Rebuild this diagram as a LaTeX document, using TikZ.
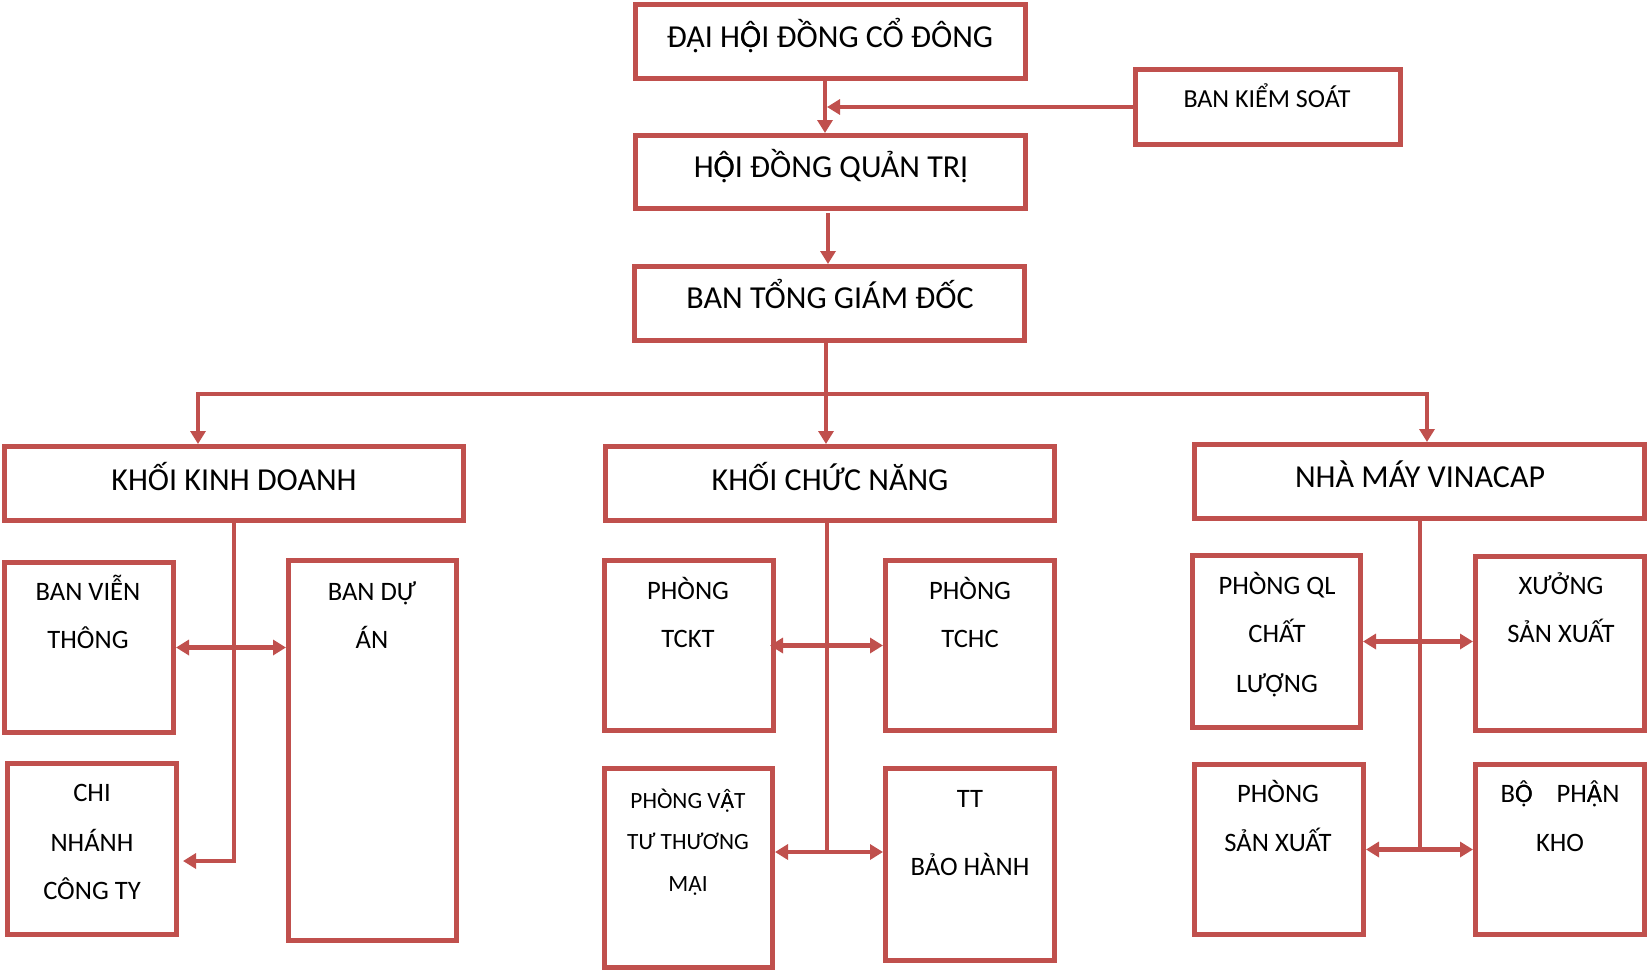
\documentclass[tikz,border=0pt]{standalone}
\usepackage{fontspec}
\setmainfont{Carlito}
\usetikzlibrary{arrows.meta}
\definecolor{boxred}{HTML}{C0504D}
% Carlito draws U+1ED8 / U+1EAC without the circumflex: overlay the two accented forms
\newcommand\Ocd{\ooalign{Ô\cr Ọ\cr}}
\newcommand\Acd{\ooalign{Â\cr Ạ\cr}}
\begin{document}
\begin{tikzpicture}[x=1pt,y=-1pt,
  box/.style={draw=boxred, line width=5pt, inner sep=0pt, rectangle},
  conn/.style={draw=boxred, line width=4.3pt},
  arr/.style={conn, -{Triangle[length=13pt,width=15pt]}},
  darr/.style={conn, {Triangle[length=13pt,width=15pt]}-{Triangle[length=13pt,width=15pt]}},
  big/.style={anchor=base, inner sep=0pt, font=\fontsize{32}{38}\selectfont},
  mid/.style={anchor=base, inner sep=0pt, font=\fontsize{26}{31}\selectfont},
  sml/.style={anchor=base, inner sep=0pt, font=\fontsize{26.6}{31}\selectfont},
  tiny/.style={anchor=base, inner sep=0pt, font=\fontsize{23.3}{28}\selectfont}
]
\useasboundingbox (0,0) rectangle (1647,970);

% boxes
\node[box, minimum width=390pt, minimum height=74pt] (dh)  at (830.5,41.5) {};
\node[box, minimum width=265pt, minimum height=75pt] (bks) at (1268,107) {};
\node[box, minimum width=390pt, minimum height=73pt] (hd)  at (830.5,172) {};
\node[box, minimum width=390pt, minimum height=74pt] (tgd) at (829.5,303.5) {};
\node[box, minimum width=459pt, minimum height=74pt] (kkd) at (234,483.5) {};
\node[box, minimum width=449pt, minimum height=74pt] (kcn) at (830,483.5) {};
\node[box, minimum width=450pt, minimum height=74pt] (nm)  at (1419.5,481.5) {};
\node[box, minimum width=169pt, minimum height=170pt] (bvt) at (89,647.5) {};
\node[box, minimum width=168pt, minimum height=380pt] (bda) at (372.5,750.5) {};
\node[box, minimum width=169pt, minimum height=171pt] (cn)  at (92,849) {};
\node[box, minimum width=169pt, minimum height=170pt] (tckt) at (689,645.5) {};
\node[box, minimum width=169pt, minimum height=170pt] (tchc) at (970,645.5) {};
\node[box, minimum width=168pt, minimum height=199pt] (vt)  at (688.5,868) {};
\node[box, minimum width=169pt, minimum height=192pt] (tt)  at (970,864.5) {};
\node[box, minimum width=168pt, minimum height=172pt] (ql)  at (1276.5,641.5) {};
\node[box, minimum width=169pt, minimum height=174pt] (xs)  at (1560,643.5) {};
\node[box, minimum width=169pt, minimum height=170pt] (psx) at (1279,849.5) {};
\node[box, minimum width=169pt, minimum height=170pt] (kho) at (1560,849.5) {};

% texts
\node[big] (tdh)  at (830,47)   {ĐẠI H\Ocd I ĐỒNG CỔ ĐÔNG};
\node[big] (thd)  at (831,177)  {H\Ocd I ĐỒNG QUẢN TRỊ};
\node[mid] (tbks) at (1267,107) {BAN KIỂM SOÁT};
\node[big] (ttgd) at (830,308)  {BAN TỔNG GIÁM ĐỐC};
\node[big] (tkkd) at (234,490)  {KHỐI KINH DOANH};
\node[big] (tkcn) at (830,490)  {KHỐI CHỨC NĂNG};
\node[big] (tnm)  at (1420,487) {NHÀ MÁY VINACAP};

\node[sml] (tbvt1) at (88,600)  {BAN VIỄN};
\node[sml] (tbvt2) at (88,648)  {THÔNG};
\node[sml] (tbda1) at (372,600) {BAN DỰ};
\node[sml] (tbda2) at (372,648) {ÁN};
\node[sml] (tcn1) at (92,801) {CHI};
\node[sml] (tcn2) at (92,851) {NHÁNH};
\node[sml] (tcn3) at (92,899) {CÔNG TY};

\node[sml] (ttckt1) at (688,599) {PHÒNG};
\node[sml] (ttckt2) at (688,647) {TCKT};
\node[sml] (ttchc1) at (970,599) {PHÒNG};
\node[sml] (ttchc2) at (970,647) {TCHC};
\node[tiny] (tvt1) at (688,808) {PHÒNG V\Acd T};
\node[tiny] (tvt2) at (688,849) {TƯ THƯƠNG};
\node[tiny] (tvt3) at (688,891) {MẠI};
\node[sml] (ttt1) at (970,807) {TT};
\node[sml] (ttt2) at (970,875) {BẢO HÀNH};

\node[sml] (tql1) at (1277,594) {PHÒNG QL};
\node[sml] (tql2) at (1277,642) {CHẤT};
\node[sml] (tql3) at (1277,692) {LƯỢNG};
\node[sml] (txs1) at (1561,594) {XƯỞNG};
\node[sml] (txs2) at (1561,642) {SẢN XUẤT};
\node[sml] (tpsx1) at (1278,802) {PHÒNG};
\node[sml] (tpsx2) at (1278,851) {SẢN XUẤT};
\node[sml] (tkho1) at (1560,802) {B\Ocd\hspace{0.9em}PH\Acd N};
\node[sml] (tkho2) at (1560,851) {KHO};

% top connectors
\draw[arr] ([xshift=-5.5pt]dh.south) -- ([xshift=-5.5pt]hd.north);
\draw[arr] (bks.west) -- ([xshift=-3.5pt]hd.north |- bks.west);
\draw[arr] ([xshift=-2.5pt,yshift=-2pt]hd.south) -- ([xshift=-1.5pt]tgd.north);
\draw[arr] ([xshift=-3.5pt]tgd.south) -- ([xshift=-4pt]kcn.north);
\coordinate (bus) at (826,394);
\draw[arr] (bus) -| ([xshift=-36pt]kkd.north);
\draw[arr] (bus) -| ([xshift=7.5pt]nm.north);

% KHOI KINH DOANH
\draw[arr] (kkd.south) |- ([xshift=4pt,yshift=-12pt]cn.east);
\draw[darr] (bvt.east) -- (bvt.east -| bda.west);

% KHOI CHUC NANG
\draw[conn] ([xshift=-3pt]kcn.south) -- ++(0,327);
\draw[darr] ([xshift=-6pt]tckt.east) -- (tckt.east -| tchc.west);
\draw[darr] ([yshift=16pt]vt.east) -- ([yshift=16pt]vt.east -| tt.west);

% NHA MAY
\draw[conn] ([xshift=0.5pt]nm.south) -- ++(0,329);
\draw[darr] (ql.east) -- (ql.east -| xs.west);
\draw[darr] (psx.east) -- (psx.east -| kho.west);
\end{tikzpicture}
\end{document}
